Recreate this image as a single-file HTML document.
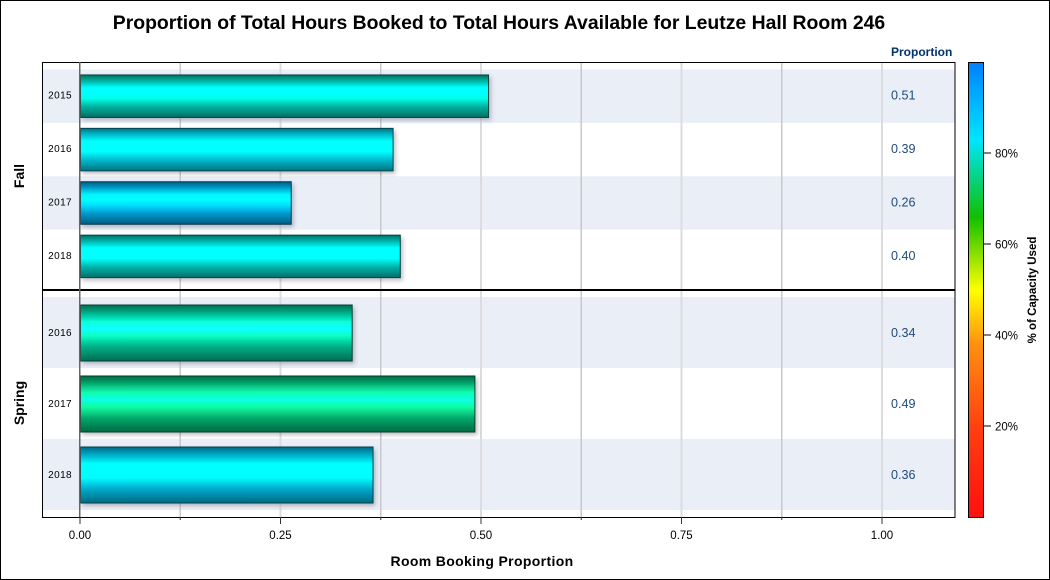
<!DOCTYPE html>
<html lang="en">
<head>
<meta charset="utf-8">
<title>Proportion of Total Hours Booked</title>
<style>
html,body{margin:0;padding:0;background:#fff;}
svg{display:block;font-family:"Liberation Sans",Arial,sans-serif;}
</style>
</head>
<body>
<svg id="chart" width="1050" height="580" viewBox="0 0 1050 580" xmlns="http://www.w3.org/2000/svg">
  <defs>
    <filter id="bar-shadow" x="-5%" y="-20%" width="110%" height="140%">
      <feDropShadow dx="2" dy="2.5" stdDeviation="2" flood-color="#4a4a60" flood-opacity="0.35"/>
    </filter>
    <linearGradient id="ramp" x1="0" y1="1" x2="0" y2="0"></linearGradient>
  </defs>
  <rect x="0.5" y="0.5" width="1049" height="579" fill="#fff" stroke="#000" stroke-width="1"/>
  <text x="499" y="29" text-anchor="middle" font-size="19.4" font-weight="bold" fill="#000">Proportion of Total Hours Booked to Total Hours Available for Leutze Hall Room 246</text>
  <text x="891" y="56" font-size="12" font-weight="bold" fill="#00336b">Proportion</text>
  <g id="bands"></g>
  <g id="grid"></g>
  <g id="bars"></g>
  <g id="labels"></g>
  <rect x="42.5" y="62.5" width="912.5" height="455" fill="none" stroke="#000" stroke-width="1"/>
  <rect x="42" y="289" width="913" height="2" fill="#000"/>
  <rect x="79" y="62" width="1.5" height="455" fill="#666"/>
  <g id="axis"></g>
  <text x="482" y="566" text-anchor="middle" font-size="14" font-weight="bold" fill="#000" letter-spacing="0.35">Room Booking Proportion</text>
  <text transform="translate(24,176) rotate(-90)" text-anchor="middle" font-size="14" font-weight="bold" fill="#000">Fall</text>
  <text transform="translate(24,403) rotate(-90)" text-anchor="middle" font-size="14" font-weight="bold" fill="#000">Spring</text>
  <rect x="968.5" y="62.5" width="15" height="455" fill="url(#ramp)" stroke="#000" stroke-width="1"/>
  <g id="legend"></g>
  <text transform="translate(1036,290) rotate(-90)" text-anchor="middle" font-size="11.5" font-weight="bold" fill="#000">% of Capacity Used</text>
</svg>
<script>
var fallYears = ['2015', '2016', '2017', '2018'];
var fallValues = [0.51, 0.391, 0.264, 0.40];
var fallLabels = ['0.51', '0.39', '0.26', '0.40'];
var fallCapacity = [79, 83, 90, 80];
var springYears = ['2016', '2017', '2018'];
var springValues = [0.34, 0.493, 0.366];
var springLabels = ['0.34', '0.49', '0.36'];
var springCapacity = [77, 75, 86];
var axisTicks = [0, 0.125, 0.25, 0.375, 0.5, 0.625, 0.75, 0.875, 1];
var axisTickLabels = ['0.00', '', '0.25', '', '0.50', '', '0.75', '', '1.00'];
var legendTicks = [20, 40, 60, 80];
var rampPct = [0, 20, 38, 50, 66, 83, 100];
var rampColors = [[255,16,16],[255,64,16],[255,144,16],[255,255,0],[16,192,0],[0,229,255],[0,128,255]];

var NS = 'http://www.w3.org/2000/svg';
function xScale(v) { return 80 + v * 802; }
function legendY(p) { return 517 - p * 4.55; }
function make(tag, attrs, parent) {
  var el = document.createElementNS(NS, tag);
  for (var k in attrs) { el.setAttribute(k, attrs[k]); }
  parent.appendChild(el);
  return el;
}
function rampColor(p) {
  for (var i = 1; i < rampPct.length; i++) {
    if (p <= rampPct[i]) {
      var t = (p - rampPct[i - 1]) / (rampPct[i] - rampPct[i - 1]);
      return rampColors[i].map(function (c, j) { return rampColors[i - 1][j] + (c - rampColors[i - 1][j]) * t; });
    }
  }
  return rampColors[rampColors.length - 1];
}
function scaled(c, f) {
  return 'rgb(' + c.map(function (v) { return Math.min(255, Math.round(v * f)); }).join(',') + ')';
}
var defs = document.querySelector('defs');
var ramp = document.getElementById('ramp');
rampPct.forEach(function (p, i) {
  make('stop', { offset: p / 100, 'stop-color': scaled(rampColors[i], 1) }, ramp);
});

var shadeStops = [[0, 0.5], [0.1, 0.72], [0.3, 1.3], [0.42, 1.7], [0.55, 1.2], [0.75, 0.8], [1, 0.5]];
var bandsG = document.getElementById('bands');
var gridG = document.getElementById('grid');
var barsG = document.getElementById('bars');
var labelsG = document.getElementById('labels');
var axisG = document.getElementById('axis');
var legendG = document.getElementById('legend');

function drawPanel(panel, years, values, labels, capacity, top, rowH, barH, markShift) {
  years.forEach(function (yr, i) {
    var y0 = top + i * rowH;
    var cy = y0 + rowH / 2 + markShift;
    if (i % 2 === 0) {
      var band = make('rect', { x: 43, y: y0, width: 912, height: rowH, fill: '#eaeef7' }, bandsG);
      
      
    }
    var col = rampColor(capacity[i]);
    var gid = 'grad-' + panel + '-' + i;
    var grad = make('linearGradient', { id: gid, x1: 0, y1: 0, x2: 0, y2: 1 }, defs);
    shadeStops.forEach(function (s) {
      make('stop', { offset: s[0], 'stop-color': scaled(col, s[1]) }, grad);
    });
    var bar = make('rect', {
      x: xScale(0) + 0.5, y: cy - barH / 2, width: xScale(values[i]) - xScale(0) - 1, height: barH,
      fill: 'url(#' + gid + ')', stroke: scaled(col, 0.3), 'stroke-width': 1, filter: 'url(#bar-shadow)'
    }, barsG);
    
    
    var yl = make('text', { x: 72, y: cy + 2.5 + markShift, 'text-anchor': 'end', 'font-size': 10, 'letter-spacing': 0.4, fill: '#000' }, labelsG);
    yl.textContent = yr;
    
    
    var vl = make('text', { x: 891, y: cy + 3.5 + markShift, 'font-size': 12.6, fill: '#1f4b7d' }, labelsG);
    vl.textContent = labels[i];
    
    
  });
}

axisTicks.forEach(function (t, i) {
  var x = xScale(t);
  if (t > 0) {
    var g = make('rect', { x: x - (i % 2 ? 0.75 : 1), y: 62, width: i % 2 ? 1.5 : 2, height: 455, fill: i % 2 ? '#c8c8cc' : '#dcdce0' }, gridG);
    
    
  }
  var major = axisTickLabels[i] !== '';
  var tick = make('rect', { x: x - 0.5, y: 517, width: 1, height: major ? 7 : 3, fill: '#333' }, axisG);
  
  
  if (major) {
    var lab = make('text', { x: x, y: 539, 'text-anchor': 'middle', 'font-size': 11.5, fill: '#000' }, axisG);
    lab.textContent = axisTickLabels[i];
    
    
  }
});

drawPanel('fall', fallYears, fallValues, fallLabels, fallCapacity, 69.5, 53.4, 42.5, 0);
drawPanel('spring', springYears, springValues, springLabels, springCapacity, 297, 71, 56, 0.5);

legendTicks.forEach(function (p) {
  var y = legendY(p);
  var tick = make('rect', { x: 984, y: Math.round(y) - 0.5, width: 7, height: 1, fill: '#000' }, legendG);
  
  
  var lab = make('text', { x: 995, y: y + 4.5, 'font-size': 11.5, fill: '#000' }, legendG);
  lab.textContent = p + '%';
  
  
});
</script>
</body>
</html>
